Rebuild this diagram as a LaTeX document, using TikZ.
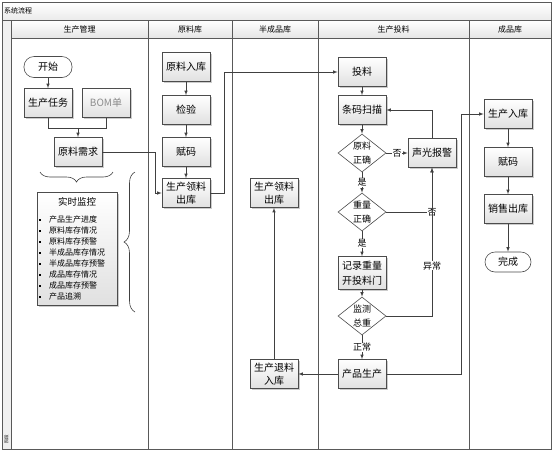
\documentclass[tikz,border=0pt]{standalone}
\usepackage{fontspec}
\newfontfamily\cjk{Noto Sans CJK SC}
\usetikzlibrary{shapes.geometric,shadows,decorations.pathreplacing}

\newcommand\jkpunkt[1]{\makebox[10pt][l]{\raisebox{1.5pt}{\rule{2pt}{2pt}}}#1}

\begin{document}
\begin{tikzpicture}[x=1pt,y=-1pt,
        font=\cjk\fontsize{10}{13}\selectfont,
        lane/.style={draw=black!65, line width=1pt},
        line/.style={draw=black!75, line width=0.6pt},
        proc/.style={draw=black!70, line width=0.6pt, top color=white, bottom color=black!12,
            drop shadow={shadow xshift=1.5pt, shadow yshift=-1.5pt, fill=black!40},
            minimum width=48pt, minimum height=29pt, inner sep=1pt, align=center},
        term/.style={draw=black!70, line width=0.6pt, fill=white, rounded corners=10pt,
            minimum width=48pt, minimum height=21pt, inner sep=1pt},
        dec/.style={diamond, draw=black!70, line width=0.6pt, fill=white, aspect=1.26,
            minimum width=48pt, minimum height=38pt, inner sep=-1.5pt, align=center,
            font=\cjk\fontsize{9}{14}\selectfont},
        lab/.style={fill=white, inner sep=0.5pt, font=\cjk\fontsize{9}{10}\selectfont},
        hdr/.style={font=\cjk\fontsize{8}{9}\selectfont, inner sep=1pt},
        >=latex % Pfeilspitzen
        ]
            \useasboundingbox (0,0) rectangle (554,451);

            % Rahmen, Bahnen
            \fill[black!6] (2,20) rectangle (11,449);
            \draw[lane, top color=white, bottom color=black!8] (2,2) rectangle (551,20);
            \draw[lane, top color=white, bottom color=black!10] (11,20) rectangle (551,38);
            \foreach \x in {11,148,232,318,469}
                \draw[lane] (\x,20) -- (\x,449);
            \draw[lane] (2,2) rectangle (551,449);
            \node[anchor=west, font=\cjk\fontsize{7}{8}\selectfont, inner sep=1pt] (titel) at (3,11) {系统流程};
            \node[rotate=90, font=\cjk\fontsize{4.5}{5}\selectfont, inner sep=0pt] (phase) at (6.5,439) {阶段};
            \foreach \x/\t [count=\i] in {79.5/生产管理, 190/原料库, 275/半成品库, 393.5/生产投料, 510/成品库}
                \node[hdr] (kopf\i) at (\x,29) {\t};

            % Knoten
            \node[term] (start) at (48,67) {开始};
            \node[proc] (task)  at (48,103) {生产任务};
            \node[proc, text=black!45] (bom) at (106,103) {BOM单};
            \node[proc] (need)  at (78,152) {原料需求};
            \node[proc, minimum width=80pt, minimum height=113pt, text width=76pt, inner sep=2pt,
                  align=left, font=\cjk\fontsize{8}{11}\selectfont] (mon) at (77,248.5)
                {\makebox[76pt]{\fontsize{9.5}{11}\selectfont 实时监控}\\[6pt]
                 \jkpunkt{产品生产进度}\\ \jkpunkt{原料库存情况}\\ \jkpunkt{原料库存预警}\\
                 \jkpunkt{半成品库存情况}\\ \jkpunkt{半成品库存预警}\\ \jkpunkt{成品库存情况}\\
                 \jkpunkt{成品库存预警}\\ \jkpunkt{产品追溯}};

            \node[proc] (rin)   at (186,67)  {原料入库};
            \node[proc] (check) at (186,110) {检验};
            \node[proc] (code1) at (186,152) {赋码};
            \node[proc] (out1)  at (186,193) {生产领料\\出库};

            \node[proc] (out2)  at (274,193) {生产领料\\出库};
            \node[proc] (back)  at (274,374) {生产退料\\入库};

            \node[proc] (feed)  at (362,72)  {投料};
            \node[proc] (scan)  at (362,110) {条码扫描};
            \node[dec]  (d1)    at (362,153) {原料\\正确};
            \node[proc] (alarm) at (432,153) {声光报警};
            \node[dec]  (d2)    at (362,212) {重量\\正确};
            \node[proc, minimum height=33pt] (rec) at (362,273) {记录重量\\[2pt]开投料门};
            \node[dec]  (d3)    at (362,316) {监测\\总重};
            \node[proc] (prod)  at (362,374) {产品生产};

            \node[proc] (fin)   at (508,114) {生产入库};
            \node[proc] (code2) at (508,162) {赋码};
            \node[proc] (sale)  at (508,209) {销售出库};
            \node[term, minimum width=46pt, minimum height=20pt] (done) at (508,262) {完成};

            % Klammern
            \draw[line, decorate, decoration={brace, mirror, amplitude=10pt}] (40,172) -- (113,172);
            \draw[line, decorate, decoration={brace, mirror, amplitude=11pt}] (135,172) -- (135,312);

            % Verbindungen
            \draw[line, ->] (start) -- (task);
            \draw[line] (task.south) -- ++(0,10) coordinate (j1) -| (bom.south);
            \draw[line, ->] (j1 -| need.north) -- (need.north);
            \draw[line, ->] (need.east) -- ++(53,0) |- (out1.west);

            \draw[line, ->] (rin) -- (check);
            \draw[line, ->] (check) -- (code1);
            \draw[line, ->] (code1) -- (out1);
            \draw[line, ->] (out1.east) -- ++(14,0) |- (feed.west);
            \draw[line, ->] (back) -- (out2);

            \draw[line, ->] (feed) -- (scan);
            \draw[line, ->] (scan) -- (d1);
            \draw[line, ->] (d1) -- node[lab] {否} (alarm);
            \draw[line, ->] (alarm.north) |- (scan.east);
            \draw[line, ->] (d1) -- node[lab] {是} (d2);
            \draw[line, ->] (d2) -| node[lab, pos=0.5] {否} (alarm.south);
            \draw[line, ->] (d2) -- node[lab] {是} (rec);
            \draw[line, ->] (rec) -- (d3);
            \draw[line, ->] (d3) -| node[lab, pos=0.67] {异常} (alarm.south);
            \draw[line, ->] (d3) -- node[lab] {正常} (prod);
            \draw[line, ->] (prod) -- (back);
            \draw[line, ->] (prod.east) -- ++(75,0) |- (fin.west);

            \draw[line, ->] (fin) -- (code2);
            \draw[line, ->] (code2) -- (sale);
            \draw[line, ->] (sale) -- (done);
        \end{tikzpicture}
\end{document}
